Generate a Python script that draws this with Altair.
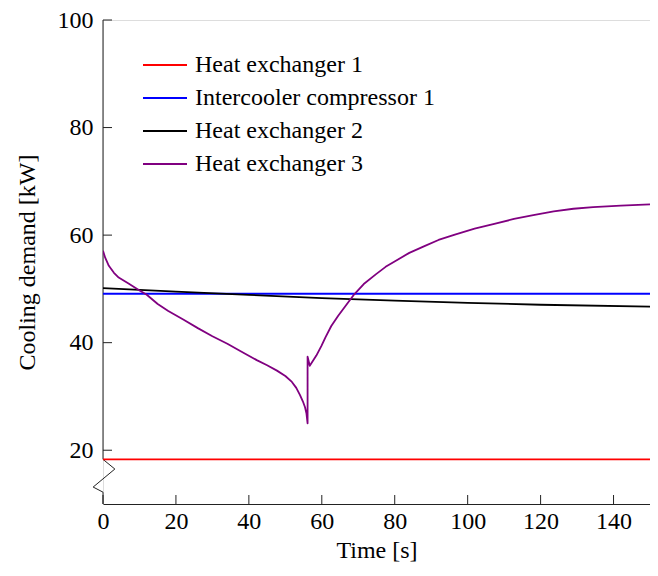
import altair as alt
import pandas as pd

# ---- data ----
series_names = ["Heat exchanger 1", "Intercooler compressor 1", "Heat exchanger 2", "Heat exchanger 3"]
series_colors = ["#ff0000", "#0000ff", "#000000", "#800080"]

hx1_t = [0, 150]
hx1_q = [18.3, 18.3]

ic1_t = [0, 150]
ic1_q = [49.1, 49.1]

hx2_t = [0, 20, 40, 60, 80, 100, 120, 150]
hx2_q = [50.15, 49.5, 48.9, 48.3, 47.8, 47.4, 47.05, 46.7]

hx3_t = [0, 0.6, 1.6, 3.0, 4.3, 7.0, 9.8, 12.0, 15.0, 17.9, 22.0, 26.0, 30.0, 34.1, 38.0,
         42.3, 45.0, 47.7, 50.0, 51.8, 53.0, 54.0, 54.8, 55.4, 55.8, 56.1, 56.1, 56.7,
         58.5, 59.9, 61.0, 62.6, 64.5, 66.7, 68.9, 71.5, 74.8, 77.5, 80.2, 84.0, 88.3,
         92.0, 96.5, 101.9, 107.3, 112.7, 118.0, 123.6, 129.0, 134.4, 142.0, 150.0]
hx3_q = [57.1, 55.8, 54.3, 53.0, 52.1, 51.0, 49.8, 48.9, 47.2, 45.9, 44.3, 42.7, 41.2, 39.8, 38.3,
         36.7, 35.8, 34.8, 33.8, 32.7, 31.6, 30.3, 29.1, 28.0, 26.8, 25.0, 37.4, 35.7,
         37.6, 39.4, 41.0, 43.1, 45.0, 47.0, 49.0, 50.9, 52.7, 54.1, 55.2, 56.7, 58.0,
         59.1, 60.1, 61.2, 62.1, 63.0, 63.7, 64.4, 64.9, 65.2, 65.5, 65.7]

x_ticks = [0, 20, 40, 60, 80, 100, 120, 140]
y_ticks = [20, 40, 60, 80, 100]

# y-axis line with a break symbol near the bottom
break_t = [0, 0, 3.25, -2.7, 0, 0]
break_q = [100, 18.3, 16.5, 13.15, 12.2, 10]

# ---- layout / style ----
W, H = 547, 484
FONT = "Liberation Serif, DejaVu Serif, serif"
FS = 24
AXC = "#222222"

xscale = alt.Scale(domain=[0, 150], nice=False, zero=False)
yscale = alt.Scale(domain=[10, 100], nice=False, zero=False)

x_axis = alt.Axis(values=x_ticks, title="Time [s]", ticks=False, tickSize=0, grid=False,
                  labelPadding=5, labelFont=FONT, labelFontSize=FS, labelColor="#000",
                  titleFont=FONT, titleFontSize=FS, titleFontWeight="normal", titleColor="#000",
                  domainColor=AXC, domainWidth=1, labelFlush=False, labelOverlap=False,
                  titleY=53, titleBaseline="alphabetic")
y_axis = alt.Axis(values=y_ticks, title="Cooling demand [kW]", ticks=False, tickSize=0, grid=False,
                  domain=False, labelPadding=10, labelFont=FONT, labelFontSize=FS, labelColor="#000",
                  titleFont=FONT, titleFontSize=FS, titleFontWeight="normal", titleColor="#000",
                  titleX=-69, titleY=H / 2, titleAngle=-90, titleBaseline="alphabetic",
                  titleAlign="center", labelFlush=False, labelOverlap=False)


def X():
    return alt.X("t:Q", scale=xscale, axis=x_axis)


def Y():
    return alt.Y("q:Q", scale=yscale, axis=y_axis)


layers = []

# axis line with break
df_break = pd.DataFrame({"t": break_t, "q": break_q, "i": list(range(len(break_t)))})
layers.append(alt.Chart(df_break).mark_line(color=AXC, strokeWidth=1, clip=False).encode(
    x=X(), y=Y(), order="i:Q"))

# inward ticks
df_xt = pd.DataFrame({"t": x_ticks})
layers.append(alt.Chart(df_xt).mark_rule(color=AXC, strokeWidth=1).encode(
    x=X(), y=alt.value(H), y2=alt.value(H - 9)))
df_yt = pd.DataFrame({"q": y_ticks})
layers.append(alt.Chart(df_yt).mark_rule(color=AXC, strokeWidth=1).encode(
    y=Y(), x=alt.value(0), x2=alt.value(9)))

# series
all_t = [hx1_t, ic1_t, hx2_t, hx3_t]
all_q = [hx1_q, ic1_q, hx2_q, hx3_q]
for name, col, ts, qs in zip(series_names, series_colors, all_t, all_q):
    df = pd.DataFrame({"t": ts, "q": qs, "i": list(range(len(ts))), "series": name})
    layers.append(alt.Chart(df).mark_line(color=col, strokeWidth=1.8, clip=True,
                                          strokeJoin="round").encode(
        x=X(), y=Y(), order="i:Q"))

# legend (no box)
for k, (name, col) in enumerate(zip(series_names, series_colors)):
    dfl = pd.DataFrame({"series": [name]})
    ypix = 45 + 33 * k
    layers.append(alt.Chart(dfl).mark_rule(color=col, strokeWidth=1.8).encode(
        x=alt.value(40), x2=alt.value(84), y=alt.value(ypix)))
    layers.append(alt.Chart(dfl).mark_text(align="left", baseline="middle", font=FONT,
                                           fontSize=FS, color="#000").encode(
        x=alt.value(92), y=alt.value(ypix), text="series:N"))

chart = alt.layer(*layers).properties(
    width=W, height=H,
    autosize=alt.AutoSizeParams(type="none"),
    padding={"left": 95, "top": 12, "right": 0, "bottom": 60},
).configure_view(stroke=None).configure(background="white")

chart.save("out.html", embed_options={"renderer": "svg", "actions": False})
